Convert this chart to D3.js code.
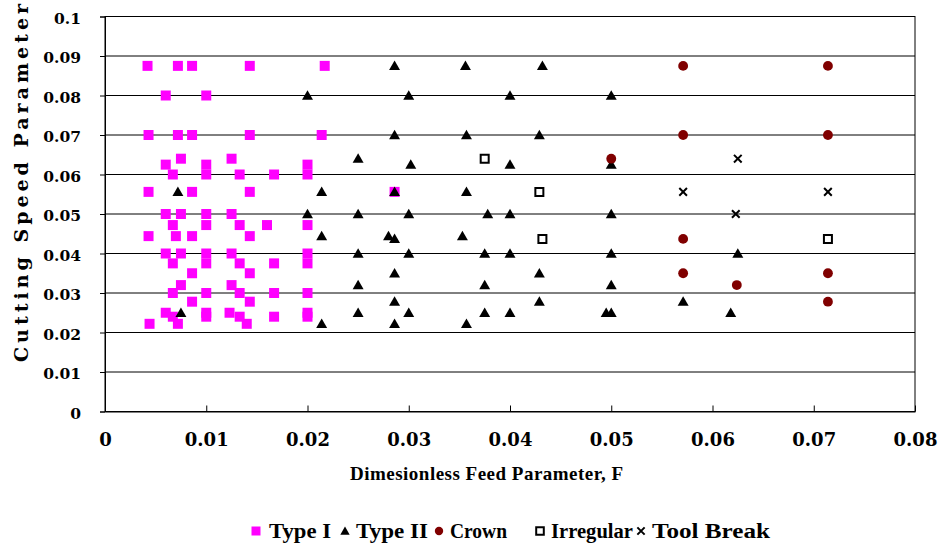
<!DOCTYPE html>
<html>
<head>
<meta charset="utf-8">
<script src="https://cdn.jsdelivr.net/npm/d3@7"></script>
<style>
  html, body { margin: 0; padding: 0; background: #fff; }
  svg { display: block; }
</style>
</head>
<body>
<svg id="chart" width="943" height="546"></svg>
<script>
// series: [feed parameter F, cutting speed parameter V]
const typeI = [
  [0.0042,0.0875],[0.0072,0.0875],[0.0086,0.0875],[0.0143,0.0875],[0.0217,0.0875],
  [0.0060,0.08],[0.0100,0.08],
  [0.0043,0.07],[0.0072,0.07],[0.0086,0.07],[0.0143,0.07],[0.0214,0.07],
  [0.0075,0.064],[0.0125,0.064],
  [0.0060,0.0625],[0.0100,0.0625],[0.0200,0.0625],
  [0.0067,0.06],[0.0100,0.06],[0.0133,0.06],[0.0167,0.06],[0.0200,0.06],
  [0.0043,0.0556],[0.0086,0.0556],[0.0143,0.0556],[0.0286,0.0556],
  [0.0060,0.05],[0.0075,0.05],[0.0100,0.05],[0.0125,0.05],
  [0.0067,0.0472],[0.0100,0.0472],[0.0133,0.0472],[0.0160,0.0472],[0.0200,0.0472],
  [0.0043,0.0444],[0.0070,0.0444],[0.0086,0.0444],[0.0143,0.0444],
  [0.0060,0.04],[0.0075,0.04],[0.0100,0.04],[0.0125,0.04],[0.0200,0.04],
  [0.0067,0.0375],[0.0100,0.0375],[0.0133,0.0375],[0.0167,0.0375],[0.0200,0.0375],
  [0.0086,0.035],[0.0143,0.035],
  [0.0075,0.032],[0.0125,0.032],
  [0.0067,0.03],[0.0100,0.03],[0.0133,0.03],[0.0167,0.03],[0.0200,0.03],
  [0.0086,0.0278],[0.0143,0.0278],
  [0.0060,0.025],[0.0100,0.025],[0.0123,0.025],[0.0200,0.025],
  [0.0067,0.024],[0.0100,0.024],[0.0133,0.024],[0.0167,0.024],[0.0200,0.024],
  [0.0044,0.0222],[0.0072,0.0222],[0.0140,0.0222]
]
const typeII = [
  [0.0286,0.0875],[0.0356,0.0875],[0.0432,0.0875],
  [0.0200,0.08],[0.0300,0.08],[0.0400,0.08],[0.0500,0.08],
  [0.0286,0.07],[0.0357,0.07],[0.0429,0.07],
  [0.0250,0.064],
  [0.0302,0.0625],[0.0400,0.0625],[0.0500,0.0625],
  [0.0072,0.0556],[0.0214,0.0556],[0.0286,0.0556],[0.0357,0.0556],
  [0.0200,0.05],[0.0250,0.05],[0.0300,0.05],[0.0378,0.05],[0.0400,0.05],[0.0500,0.05],
  [0.0214,0.0444],[0.0280,0.0444],[0.0286,0.0437],[0.0353,0.0444],
  [0.0250,0.04],[0.0300,0.04],[0.0375,0.04],[0.0400,0.04],[0.0500,0.04],[0.0625,0.04],
  [0.0286,0.035],[0.0429,0.035],
  [0.0250,0.032],[0.0375,0.032],[0.0500,0.032],
  [0.0286,0.0278],[0.0429,0.0278],[0.0571,0.0278],
  [0.0075,0.025],[0.0250,0.025],[0.0300,0.025],[0.0375,0.025],[0.0400,0.025],[0.0495,0.025],[0.0500,0.025],[0.0618,0.025],
  [0.0214,0.0222],[0.0286,0.0222],[0.0357,0.0222]
]
const crown = [
  [0.0571,0.0875],[0.0714,0.0875],[0.0571,0.07],[0.0714,0.07],[0.0500,0.064],
  [0.0571,0.0437],[0.0571,0.035],[0.0714,0.035],[0.0624,0.032],[0.0714,0.0278]
]
const irregular = [[0.0375,0.064],[0.0429,0.0556],[0.0432,0.0437],[0.0714,0.0437]]
const toolBreak = [[0.0625,0.064],[0.0571,0.0556],[0.0714,0.0556],[0.0623,0.05]]

const xTicks = [0, 0.01, 0.02, 0.03, 0.04, 0.05, 0.06, 0.07, 0.08]
const xTickLabels = ['0','0.01','0.02','0.03','0.04','0.05','0.06','0.07','0.08']
const yTicks = [0, 0.01, 0.02, 0.03, 0.04, 0.05, 0.06, 0.07, 0.08, 0.09, 0.1]
const yTickLabels = ['0','0.01','0.02','0.03','0.04','0.05','0.06','0.07','0.08','0.09','0.1']
const seriesNames = ['Type I', 'Type II', 'Crown', 'Irregular', 'Tool Break']

const svg = d3.select('#chart')
const plotLeft = 105, plotRight = 915, plotTop = 16.5, plotBottom = 411.5

const x = d3.scaleLinear().domain([0, 0.08]).range([plotLeft, plotRight])
const y = d3.scaleLinear().domain([0, 0.1]).range([plotBottom, plotTop])

svg.append('rect').attr('width', 943).attr('height', 546).attr('fill', '#fff')

// horizontal gridlines
svg.append('g')
  .selectAll('line')
  .data(yTicks)
  .join('line')
    .attr('x1', plotLeft).attr('x2', plotRight)
    .attr('y1', d => y(d)).attr('y2', d => y(d))
    .attr('stroke', '#000').attr('stroke-width', 1)

// plot frame
svg.append('rect')
  .attr('x', plotLeft).attr('y', plotTop)
  .attr('width', plotRight - plotLeft).attr('height', plotBottom - plotTop)
  .attr('fill', 'none').attr('stroke', '#000').attr('stroke-width', 1)

// y axis (ticks point outward)
const yAxis = svg.append('g')
  .attr('transform', 'translate(' + plotLeft + ',0)')
  .call(d3.axisLeft(y).tickValues(yTicks).tickSize(5).tickPadding(19)
    .tickFormat((d, i) => yTickLabels[i]))
yAxis.select('.domain').attr('stroke', '#000')
yAxis.selectAll('text')
  .attr('font-family', 'DejaVu Serif').attr('font-weight', 'bold')
  .attr('font-size', 15.5).attr('fill', '#000').attr('dy', '0.45em')

// x axis (ticks point inward)
const xAxis = svg.append('g')
  .attr('transform', 'translate(0,' + plotBottom + ')')
  .call(d3.axisBottom(x).tickValues(xTicks).tickSizeInner(-6).tickSizeOuter(0).tickPadding(22)
    .tickFormat((d, i) => xTickLabels[i]))
xAxis.select('.domain').attr('stroke', '#000')
xAxis.selectAll('text')
  .attr('font-family', 'DejaVu Serif').attr('font-weight', 'bold')
  .attr('font-size', 18).attr('fill', '#000')

// axis titles
svg.append('text')
  .attr('transform', 'translate(28,362) rotate(-90)')
  .attr('font-family', 'DejaVu Serif').attr('font-weight', 'bold').attr('font-size', 19)
  .attr('textLength', 358).attr('lengthAdjust', 'spacing')
  .text('Cutting Speed Parameter')

svg.append('text')
  .attr('x', 350).attr('y', 480)
  .attr('font-family', 'Liberation Serif').attr('font-weight', 'bold').attr('font-size', 19)
  .attr('textLength', 273).attr('lengthAdjust', 'spacing')
  .text('Dimesionless Feed Parameter, F')

// markers
const sq = d3.symbol().type(d3.symbolSquare).size(100)
const tri = d3.symbol().type(d3.symbolTriangle).size(52)
const circ = d3.symbol().type(d3.symbolCircle).size(76)
const hollow = d3.symbol().type(d3.symbolSquare).size(64)
const cross = d3.symbol().type(d3.symbolTimes).size(40)

const markerStyles = [
  {path: sq(), fill: '#ff00ff', stroke: 'none', sw: 0},
  {path: tri(), fill: '#000', stroke: 'none', sw: 0},
  {path: circ(), fill: '#800000', stroke: 'none', sw: 0},
  {path: hollow(), fill: '#fff', stroke: '#000', sw: 2},
  {path: cross(), fill: 'none', stroke: '#000', sw: 2}
]

function drawSeries(data, k) {
  const st = markerStyles[k]
  svg.append('g')
    .selectAll('path')
    .data(data)
    .join('path')
      .attr('d', st.path)
      .attr('transform', d => 'translate(' + x(d[0]) + ',' + (y(d[1]) + (k === 1 ? 1 : 0)) + ')')
      .attr('fill', st.fill)
      .attr('stroke', st.stroke)
      .attr('stroke-width', st.sw)
}
;[typeI, typeII, crown, irregular, toolBreak].forEach(drawSeries)

// legend
const legendX = [256, 345, 439, 540, 641]
const legendTextW = [62, 72, 57, 82, 118]
const legendSizes = [0.9, 0.85, 0.85, 0.95, 0.95]
const legend = svg.append('g')
seriesNames.forEach((name, i) => {
  const st = markerStyles[i]
  legend.append('path')
    .attr('d', st.path)
    .attr('transform', 'translate(' + legendX[i] + ',' + (i === 1 ? 532 : 531) + ') scale(' + legendSizes[i] + ')')
    .attr('fill', st.fill).attr('stroke', st.stroke).attr('stroke-width', st.sw / legendSizes[i])
  legend.append('text')
    .attr('x', legendX[i] + (i === 0 ? 13 : 11)).attr('y', 538)
    .attr('font-family', 'Liberation Serif').attr('font-weight', 'bold').attr('font-size', 20)
    .attr('textLength', legendTextW[i]).attr('lengthAdjust', 'spacingAndGlyphs')
    .text(name)
})
</script>
</body>
</html>
